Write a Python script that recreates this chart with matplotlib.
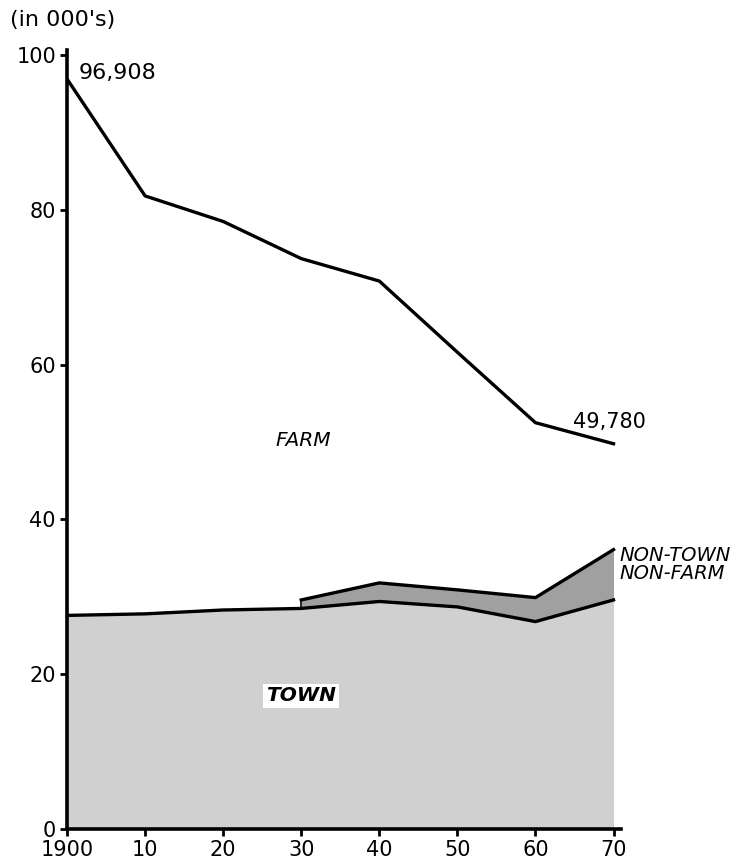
import numpy as np
import matplotlib.pyplot as plt

years = [1900, 1910, 1920, 1930, 1940, 1950, 1960, 1970]
farm_total = [96.908, 81.8, 78.5, 73.7, 70.8, 61.6, 52.5, 49.78]
town = [27.6, 27.8, 28.3, 28.5, 29.4, 28.7, 26.8, 29.6]
nontown_years = [1930, 1940, 1950, 1960, 1970]
nontown_top = [29.6, 31.8, 30.9, 29.9, 36.1]

xtick_labels = ['1900', '10', '20', '30', '40', '50', '60', '70']
yticks = [0, 20, 40, 60, 80, 100]

fig = plt.figure(figsize=(7.45, 8.65), dpi=100)
ax = fig.add_axes([0.09, 0.0416, 0.744, 0.901])

# shaded areas
ax.fill_between(years, 0, town, color='#d0d0d0', linewidth=0)
town_sub = [town[years.index(y)] for y in nontown_years]
ax.fill_between(nontown_years, town_sub, nontown_top, color='#a0a0a0', linewidth=0)

# lines
ax.plot(years, farm_total, color='black', lw=2.4)
ax.plot(years, town, color='black', lw=2.4)
ax.plot(nontown_years, nontown_top, color='black', lw=2.4)
ax.plot([nontown_years[0]] * 2, [town_sub[0], nontown_top[0]], color='black', lw=1.2)

ax.set_xlim(1900, 1971)
ax.set_ylim(0, 100.7)
ax.set_xticks(years)
ax.set_xticklabels(xtick_labels)
ax.set_yticks(yticks)
ax.tick_params(labelsize=15, width=2, length=5, direction='out', pad=3)

for s in ['top', 'right']:
    ax.spines[s].set_visible(False)
for s in ['left', 'bottom']:
    ax.spines[s].set_linewidth(2.6)

fig.text(0.013, 0.977, "(in 000's)", fontsize=16, va='center')

ax.text(years[0] + 1.5, farm_total[0] - 0.5, '96,908', fontsize=16, va='bottom')
ax.text(years[-1] - 5.2, farm_total[-1] + 1.5, '49,780', fontsize=15, ha='left', va='bottom')
ax.text(1930.2, 50.2, 'FARM', fontsize=14.5, style='italic', ha='center', va='center')
ax.text(1930.0, 17.2, 'TOWN', fontsize=14.5, style='italic', fontweight='bold',
        ha='center', va='center',
        bbox=dict(facecolor='white', edgecolor='none', pad=2))
ax.text(1970.8, 34.2, 'NON-TOWN\nNON-FARM', fontsize=14, style='italic',
        ha='left', va='center', linespacing=0.9, clip_on=False)

fig.savefig('out.png', dpi=100)
